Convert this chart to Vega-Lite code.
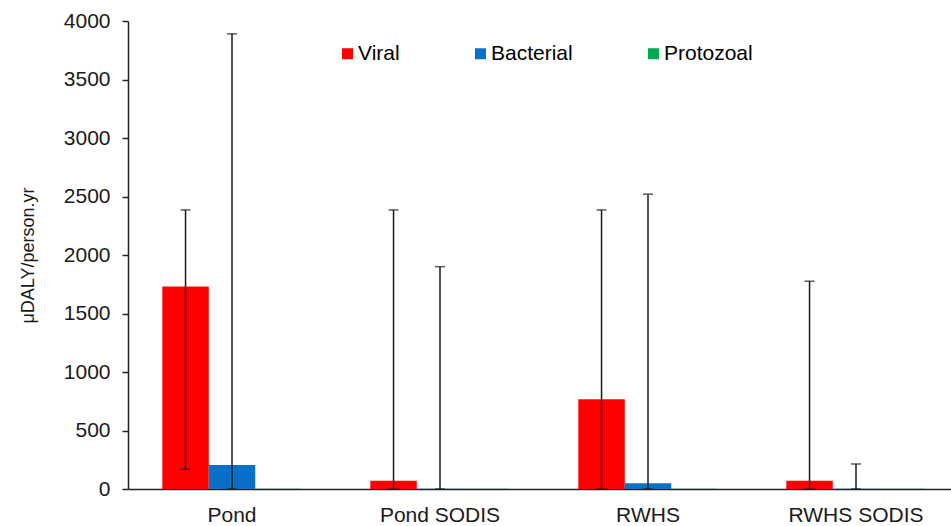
{
  "$schema": "https://vega.github.io/schema/vega-lite/v6.json",
  "autosize": "none",
  "width": 823,
  "height": 468,
  "padding": {"left": 128, "top": 21, "right": 0, "bottom": 37},
  "background": "#ffffff",
  "config": {
    "view": {"stroke": null},
    "font": "Liberation Sans",
    "axis": {"grid": false, "domainColor": "#222222", "domainWidth": 1.5, "tickColor": "#222222", "tickWidth": 1.5, "labelColor": "#1a1a1a", "titleColor": "#1a1a1a", "labelFont": "Liberation Sans", "titleFont": "Liberation Sans"}
  },
  "data": {
    "values": [
      {"site": "Pond", "pathogen": "Viral", "value": 1730, "lower": 168, "upper": 2385},
      {"site": "Pond", "pathogen": "Bacterial", "value": 205, "lower": 0, "upper": 3890},
      {"site": "Pond", "pathogen": "Protozoal", "value": 2},
      {"site": "Pond SODIS", "pathogen": "Viral", "value": 71, "lower": 0, "upper": 2385},
      {"site": "Pond SODIS", "pathogen": "Bacterial", "value": 2, "lower": 0, "upper": 1900},
      {"site": "Pond SODIS", "pathogen": "Protozoal", "value": 2},
      {"site": "RWHS", "pathogen": "Viral", "value": 767, "lower": 0, "upper": 2385},
      {"site": "RWHS", "pathogen": "Bacterial", "value": 49, "lower": 0, "upper": 2520},
      {"site": "RWHS", "pathogen": "Protozoal", "value": 2},
      {"site": "RWHS SODIS", "pathogen": "Viral", "value": 71, "lower": 0, "upper": 1776},
      {"site": "RWHS SODIS", "pathogen": "Bacterial", "value": 2, "lower": 0, "upper": 214},
      {"site": "RWHS SODIS", "pathogen": "Protozoal", "value": 2}
    ]
  },
  "encoding": {
    "x": {
      "field": "site", "type": "nominal", "sort": ["Pond", "Pond SODIS", "RWHS", "RWHS SODIS"],
      "scale": {"range": [0, 832], "paddingInner": 0.33, "paddingOuter": 0.165},
      "axis": {"title": null, "labelAngle": 0, "ticks": false, "labelFontSize": 21, "labelPadding": 15, "labelBaseline": "top"}
    },
    "xOffset": {"field": "pathogen", "type": "nominal", "sort": ["Viral", "Bacterial", "Protozoal"], "scale": {"paddingInner": 0, "paddingOuter": 0}}
  },
  "layer": [
    {
      "mark": {"type": "bar"},
      "encoding": {
        "y": {
          "field": "value", "type": "quantitative",
          "scale": {"domain": [0, 4000], "nice": false},
          "axis": {"title": "μDALY/person.yr", "format": "d", "values": [0, 500, 1000, 1500, 2000, 2500, 3000, 3500, 4000], "labelFontSize": 21, "titleFontSize": 18, "titleFontWeight": "normal", "tickSize": 6, "labelPadding": 12, "titlePadding": 26}
        },
        "color": {
          "field": "pathogen", "type": "nominal",
          "scale": {"domain": ["Viral", "Bacterial", "Protozoal"], "range": ["#ff0000", "#0a6fc6", "#00a850"]},
          "legend": {"title": null, "orient": "none", "direction": "horizontal", "legendX": 209, "legendY": 22, "symbolType": "square", "symbolSize": 121, "symbolStrokeWidth": 0, "labelFontSize": 21, "labelOffset": 0, "columnPadding": 70}
        }
      }
    },
    {
      "mark": {"type": "rule", "color": "#1a1a1a", "strokeWidth": 1.5},
      "encoding": {
        "y": {"field": "lower", "type": "quantitative"},
        "y2": {"field": "upper"}
      }
    },
    {
      "mark": {"type": "tick", "color": "#1a1a1a", "thickness": 1.5, "size": 10, "orient": "horizontal"},
      "encoding": {
        "y": {"field": "upper", "type": "quantitative"}
      }
    },
    {
      "mark": {"type": "tick", "color": "#1a1a1a", "thickness": 1.5, "size": 10, "orient": "horizontal"},
      "encoding": {
        "y": {"field": "lower", "type": "quantitative"}
      }
    }
  ]
}
